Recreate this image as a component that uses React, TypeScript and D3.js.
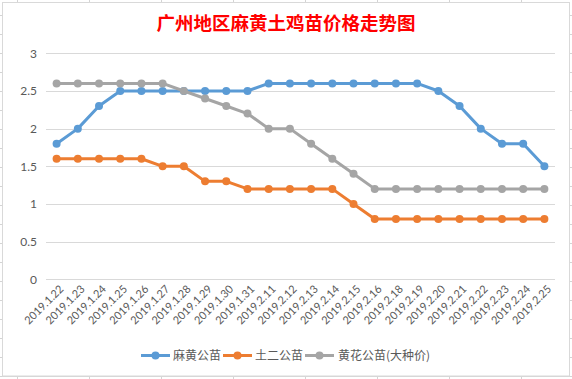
import React from "react";
import * as d3 from "d3";

const categories = [
  "2019.1.22", "2019.1.23", "2019.1.24", "2019.1.25", "2019.1.26", "2019.1.27",
  "2019.1.28", "2019.1.29", "2019.1.30", "2019.1.31", "2019.2.11", "2019.2.12",
  "2019.2.13", "2019.2.14", "2019.2.15", "2019.2.16", "2019.2.18", "2019.2.19",
  "2019.2.20", "2019.2.21", "2019.2.22", "2019.2.23", "2019.2.24", "2019.2.25",
];
const mahuang = [1.8, 2.0, 2.3, 2.5, 2.5, 2.5, 2.5, 2.5, 2.5, 2.5, 2.6, 2.6, 2.6, 2.6, 2.6, 2.6, 2.6, 2.6, 2.5, 2.3, 2.0, 1.8, 1.8, 1.5];
const tuer = [1.6, 1.6, 1.6, 1.6, 1.6, 1.5, 1.5, 1.3, 1.3, 1.2, 1.2, 1.2, 1.2, 1.2, 1.0, 0.8, 0.8, 0.8, 0.8, 0.8, 0.8, 0.8, 0.8, 0.8];
const huanghua = [2.6, 2.6, 2.6, 2.6, 2.6, 2.6, 2.5, 2.4, 2.3, 2.2, 2.0, 2.0, 1.8, 1.6, 1.4, 1.2, 1.2, 1.2, 1.2, 1.2, 1.2, 1.2, 1.2, 1.2];
const seriesNames = ["麻黄公苗", "土二公苗", "黄花公苗(大种价)"];
const seriesColors = ["#5b9bd5", "#ed7d31", "#a5a5a5"];
const yTicks = [0, 0.5, 1, 1.5, 2, 2.5, 3];
const yTickLabels = ["0", "0.5", "1", "1.5", "2", "2.5", "3"];
const title = "广州地区麻黄土鸡苗价格走势图";

const W = 572;
const H = 379;

export default function App() {
  const x = d3.scaleBand<string>().domain(categories).range([46, 555]);
  const y = d3.scaleLinear().domain([0, 3]).range([279.3, 53.3]);
  const cx = (c: string) => (x(c) as number) + x.bandwidth() / 2;
  const all = [mahuang, tuer, huanghua];
  const line = d3
    .line<number>()
    .x((_, i) => cx(categories[i]))
    .y((d) => y(d));

  const colLines = d3.range(17, W, 72);
  const rowLines = d3.range(15, H, 19);

  const legendItems = [
    { lx: 141, tx: 173 },
    { lx: 223, tx: 255 },
    { lx: 305, tx: 338 },
  ];
  const ly = 355.5;

  return (
    <div style={{ position: "fixed", left: 0, top: 0 }}>
      <svg width={W} height={H} style={{ display: "block", background: "#fff" }}>
        {colLines.map((c) => (
          <line key={"c" + c} x1={c + 0.5} x2={c + 0.5} y1={0} y2={H} stroke="#d4d4d4" />
        ))}
        {rowLines.map((r) => (
          <line key={"r" + r} x1={0} x2={W} y1={r + 0.5} y2={r + 0.5} stroke="#d4d4d4" />
        ))}
        <rect x={2.5} y={2.5} width={567} height={373.5} fill="#fff" stroke="#d9d9d9" />
        <text
          x={286}
          y={30}
          textAnchor="middle"
          fill="#ff0000"
          fontFamily="'Noto Sans CJK SC', sans-serif"
          fontWeight="bold"
          fontSize={18.5}
        >
          {title}
        </text>
        {yTicks.map((t, i) => (
          <g key={"y" + t}>
            <line x1={46} x2={555} y1={Math.round(y(t)) + 0.5} y2={Math.round(y(t)) + 0.5} stroke="#d9d9d9" />
            <text
              x={37}
              y={y(t)}
              dy="0.35em"
              textAnchor="end"
              fill="#595959"
              fontFamily="Lato, 'Open Sans', sans-serif"
              fontSize={12}
            >
              {yTickLabels[i]}
            </text>
          </g>
        ))}
        {categories.map((c) => (
          <text
            key={"x" + c}
            transform={`translate(${cx(c) + 5},${287}) rotate(-45)`}
            textAnchor="end"
            dy="0.35em"
            fill="#595959"
            fontFamily="Lato, 'Open Sans', sans-serif"
            fontSize={11}
          >
            {c}
          </text>
        ))}
        {all.map((s, si) => (
          <g key={"s" + si}>
            <path d={line(s) || ""} fill="none" stroke={seriesColors[si]} strokeWidth={3} strokeLinejoin="round" />
            {s.map((v, i) => (
              <circle key={i} cx={cx(categories[i])} cy={y(v)} r={4} fill={seriesColors[si]} />
            ))}
          </g>
        ))}
        {legendItems.map((it, i) => (
          <g key={"l" + i}>
            <line x1={it.lx} x2={it.lx + 29} y1={ly} y2={ly} stroke={seriesColors[i]} strokeWidth={3} />
            <circle cx={it.lx + 14.5} cy={ly} r={4} fill={seriesColors[i]} />
            <text
              x={it.tx}
              y={ly}
              dy="0.35em"
              fill="#595959"
              fontFamily="'Noto Sans CJK SC', sans-serif"
              fontSize={12}
            >
              {seriesNames[i]}
            </text>
          </g>
        ))}
      </svg>
    </div>
  );
}
